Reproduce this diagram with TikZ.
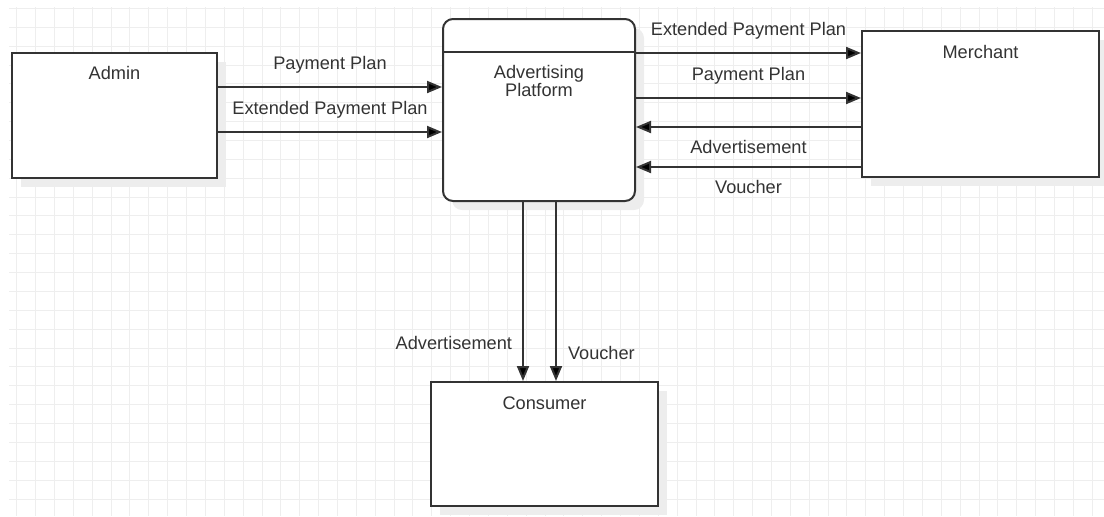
\documentclass[tikz,border=0pt]{standalone}
\usepackage{fontspec}
\setmainfont{Liberation Sans}
\usetikzlibrary{arrows.meta,shadows}
\definecolor{linegray}{HTML}{333333}
\definecolor{textgray}{HTML}{333333}
\definecolor{gridgray}{HTML}{EEEEEE}
\definecolor{shadowgray}{HTML}{EDEDED}
\tikzset{
  box/.style={draw=linegray, line width=1pt, fill=white,
    drop shadow={shadow xshift=4.5pt, shadow yshift=-4.5pt, fill=shadowgray, opacity=1}},
  title/.style={text=textgray, font=\fontsize{9.1}{9}\selectfont, align=center, inner sep=0pt},
  lbl/.style={text=textgray, font=\fontsize{9.1}{9}\selectfont, inner sep=0pt},
  flow/.style={draw=linegray, line width=1pt, -{Triangle[length=7.5pt,width=6pt,fill=black]}},
  gridline/.style={gridgray, line width=0.5pt}
}
\begin{document}
\begin{tikzpicture}[x=0.5pt, y=-0.5pt]
\useasboundingbox (0,0) rectangle (1104,516);

\foreach \i in {0,...,57} \draw[gridline] ({16.7+18.87*\i},7) -- ({16.7+18.87*\i},516);
\foreach \i in {0,...,26} \draw[gridline] (9,{8.4+18.87*\i}) -- (1104,{8.4+18.87*\i});

\node[box, minimum width=102.5pt, minimum height=62.5pt] (admin) at (114.5,115.5) {};
\node[title] (admintitle) at (114.5,73) {Admin};

\node[box, rounded corners=5pt, minimum width=96pt, minimum height=91pt] (platform) at (539,110) {};
\draw[linegray, line width=1pt] (platform.west |- 0,52) -- (platform.east |- 0,52);
\node[title] (platformtitle) at (539,81) {Advertising\\Platform};

\node[box, minimum width=118.5pt, minimum height=73pt] (merchant) at (980.5,104) {};
\node[title] (merchanttitle) at (980.5,52) {Merchant};

\node[box, minimum width=113.5pt, minimum height=62pt] (consumer) at (544.5,444) {};
\node[title] (consumertitle) at (544.5,403) {Consumer};

\draw[flow] (admin.east |- 0,87) -- (platform.west |- 0,87) node[midway, lbl, yshift=11pt] {Payment Plan};
\draw[flow] (admin.east |- 0,132) -- (platform.west |- 0,132) node[midway, lbl, yshift=11pt] {Extended Payment Plan};

\draw[flow] (platform.east |- 0,53) -- (merchant.west |- 0,53) node[midway, lbl, yshift=11pt] {Extended Payment Plan};
\draw[flow] (platform.east |- 0,98) -- (merchant.west |- 0,98) node[midway, lbl, yshift=11pt] {Payment Plan};
\draw[flow] (merchant.west |- 0,127) -- (platform.east |- 0,127) node[midway, lbl, yshift=-10pt] {Advertisement};
\draw[flow] (merchant.west |- 0,167) -- (platform.east |- 0,167) node[midway, lbl, yshift=-10pt] {Voucher};

\draw[flow] (platform.south -| 523,0) -- (consumer.north -| 523,0) node[pos=0.785, lbl, left=5pt] {Advertisement};
\draw[flow] (platform.south -| 556,0) -- (consumer.north -| 556,0) node[pos=0.845, lbl, right=5.5pt] {Voucher};

\end{tikzpicture}
\end{document}
